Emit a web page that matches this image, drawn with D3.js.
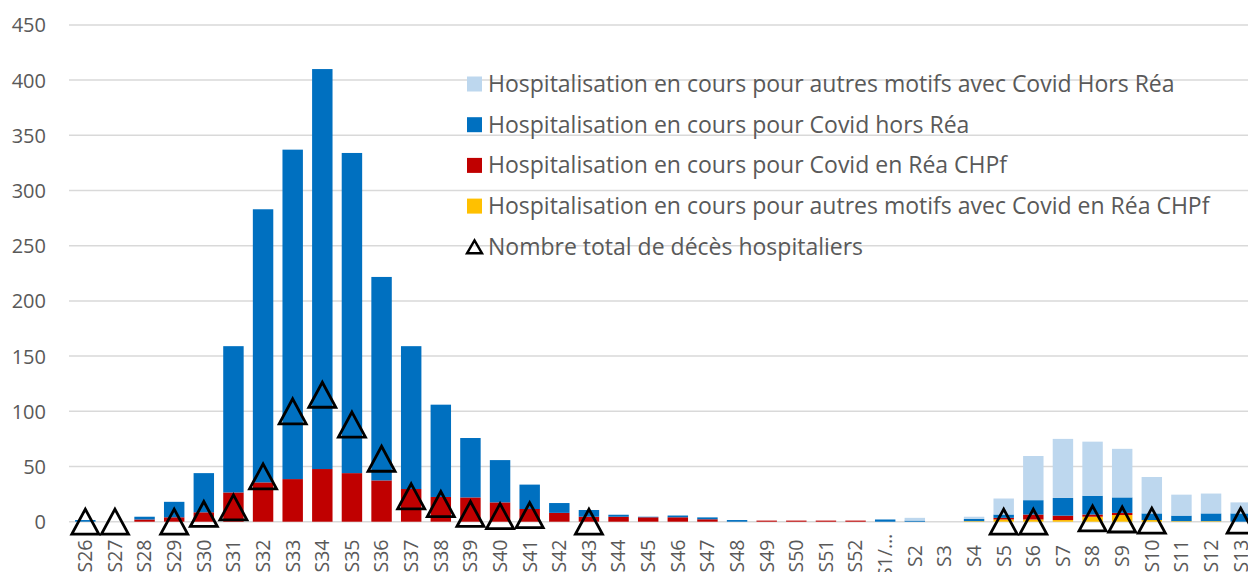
<!DOCTYPE html>
<html>
<head>
<meta charset="utf-8">
<script src="https://cdn.jsdelivr.net/npm/d3@7"></script>
<style>
  html, body { margin: 0; padding: 0; background: #fff; }
  svg { display: block; }
</style>
</head>
<body>
<div id="d3-container"></div>
<script>
/* CONSTANTS AND GLOBALS */
const width = 1248,
  height = 572,
  margin = { top: 25, bottom: 50, left: 70.5, right: -7.5 };

/* DATA */
const weeks = ["S26","S27","S28","S29","S30","S31","S32","S33","S34","S35","S36","S37","S38","S39","S40","S41","S42","S43","S44","S45","S46","S47","S48","S49","S50","S51","S52","S1/…","S2","S3","S4","S5","S6","S7","S8","S9","S10","S11","S12","S13"];

// autres motifs avec Covid en Réa CHPf (yellow)
const autresRea = [0,0,0,0,0,0,0,0,0,0,0,0,0,0,0,0,0,0,0,0,0,0,0,0,0,0,0,0,0,0,0.5,2,2,1.5,4.5,6,1.5,0.5,0.5,0];
// Covid en Réa CHPf (red)
const covidRea = [0,0,2,4,8.5,26.5,35.6,38.6,47.7,44,37.4,29.6,22.4,22,17.5,11.5,8,4.5,4.5,4,4,2.2,0,1,1,1,1,0,0,0,0,1.5,4.5,4,2,2,0,0,0,0];
// Covid hors Réa (blue)
const covidHorsRea = [1.5,0,2.5,14,35.5,132.5,247.4,298.4,362.3,290,184.3,129.4,83.6,53.8,38.3,22.1,8.9,6.1,1.8,0.5,1.6,1.7,1.5,0,0,0,0,2,1,0,2,3,13,16,17,14,6,5,7,7.5];
// autres motifs avec Covid Hors Réa (light blue)
const autresHorsRea = [0,0,0,0,0,0,0,0,0,0,0,0,0,0,0,0,0,0,0,0,0,0,0,0,0,0,0,0,2.5,0,2,14.5,40,53.5,49,44,33,19,18,10];
// Nombre total de décès hospitaliers (null = no marker)
const deces = [0,0,null,0,7,13,41,100,115,88,57,23,16,7,5,6,null,0,null,null,null,null,null,null,null,null,null,null,null,null,null,0,0,null,3,2,1,null,null,1];

const yTicks = [0,50,100,150,200,250,300,350,400,450];

const seriesKeys = ["autresRea","covidRea","covidHorsRea","autresHorsRea"];
const seriesColors = {
  autresRea: "#FFC000",
  covidRea: "#C00000",
  covidHorsRea: "#0070C0",
  autresHorsRea: "#BDD7EE"
};
const legendItems = [
  { key: "autresHorsRea", label: "Hospitalisation en cours pour autres motifs avec Covid Hors Réa" },
  { key: "covidHorsRea", label: "Hospitalisation en cours pour Covid hors Réa" },
  { key: "covidRea", label: "Hospitalisation en cours pour Covid en Réa CHPf" },
  { key: "autresRea", label: "Hospitalisation en cours pour autres motifs avec Covid en Réa CHPf" },
  { key: "deces", label: "Nombre total de décès hospitaliers" }
];

// table for the stack
const table = weeks.map((w, i) => ({
  week: w,
  autresRea: autresRea[i],
  covidRea: covidRea[i],
  covidHorsRea: covidHorsRea[i],
  autresHorsRea: autresHorsRea[i],
  deces: deces[i]
}));

const textColor = "#595959";
const fontFamily = "'Open Sans', 'Noto Sans', sans-serif";

/* SCALES */
const xScale = d3.scaleBand()
  .domain(weeks)
  .range([margin.left, width - margin.right])
  .paddingInner(0.31)
  .paddingOuter(0.155);

const yScale = d3.scaleLinear()
  .domain([0, 450])
  .range([521.7, 24.9]);

/* SVG */
const svg = d3.select("#d3-container")
  .append("svg")
  .attr("width", width)
  .attr("height", height)
  .style("font-family", fontFamily);

// gridlines
svg.append("g")
  .selectAll("line")
  .data(yTicks)
  .join("line")
  .attr("x1", 69)
  .attr("x2", width)
  .attr("y1", d => yScale(d))
  .attr("y2", d => yScale(d))
  .attr("stroke", "#d9d9d9")
  .attr("stroke-width", 1.5);

// y axis
const yAxis = d3.axisLeft(yScale).tickValues(yTicks).tickSize(0).tickPadding(0);
const yAxisGroup = svg.append("g")
  .attr("transform", `translate(46, 0)`)
  .call(yAxis);
yAxisGroup.select(".domain").remove();
yAxisGroup.selectAll("text")
  .attr("fill", textColor)
  .attr("font-size", 20)
  .attr("font-family", fontFamily)
  .attr("dy", "0.35em");

// stacked bars
const stacked = d3.stack().keys(seriesKeys)(table);
svg.append("g")
  .selectAll("g")
  .data(stacked)
  .join("g")
  .attr("fill", d => seriesColors[d.key])
  .selectAll("rect")
  .data(d => d)
  .join("rect")
  .attr("x", d => xScale(d.data.week))
  .attr("width", xScale.bandwidth())
  .attr("y", d => yScale(d[1]))
  .attr("height", d => Math.max(0, yScale(d[0]) - yScale(d[1])));

// x axis labels (rotated, centred below the axis)
const xAxis = d3.axisBottom(xScale).tickSize(0).tickPadding(0);
const xAxisGroup = svg.append("g")
  .attr("transform", `translate(0, 556)`)
  .call(xAxis);
xAxisGroup.select(".domain").remove();
xAxisGroup.selectAll("text")
  .attr("fill", textColor)
  .attr("font-size", 19.5)
  .attr("font-family", fontFamily)
  .attr("transform", "rotate(-90)")
  .attr("text-anchor", "middle")
  .attr("x", 0)
  .attr("y", 0)
  .attr("dy", "0.35em");

// death markers (open triangles)
const tri = "M0,-12.5L13.5,12.5L-13.5,12.5Z";
svg.append("g")
  .selectAll("path")
  .data(table.filter(d => d.deces !== null))
  .join("path")
  .attr("d", tri)
  .attr("transform", d => `translate(${xScale(d.week) + xScale.bandwidth() / 2}, ${yScale(d.deces)})`)
  .attr("fill", "none")
  .attr("stroke", "#000")
  .attr("stroke-width", 2.8)
  .attr("stroke-linejoin", "miter");

// legend
const legend = svg.append("g")
  .attr("transform", "translate(467, 84)");
const legendRow = legend.selectAll("g")
  .data(legendItems)
  .join("g")
  .attr("transform", (d, i) => `translate(0, ${i * 40.7})`);

legendRow.filter(d => d.key !== "deces")
  .append("rect")
  .attr("x", 0)
  .attr("y", -7.5)
  .attr("width", 15)
  .attr("height", 15)
  .attr("fill", d => seriesColors[d.key]);

legendRow.filter(d => d.key === "deces")
  .append("path")
  .attr("d", "M7.5,-6.5L15,6.5L0,6.5Z")
  .attr("fill", "none")
  .attr("stroke", "#000")
  .attr("stroke-width", 2.4);

legendRow.append("text")
  .attr("x", 21)
  .attr("y", 0)
  .attr("dy", "0.35em")
  .attr("fill", textColor)
  .attr("font-size", 23)
  .text(d => d.label);
</script>
</body>
</html>
